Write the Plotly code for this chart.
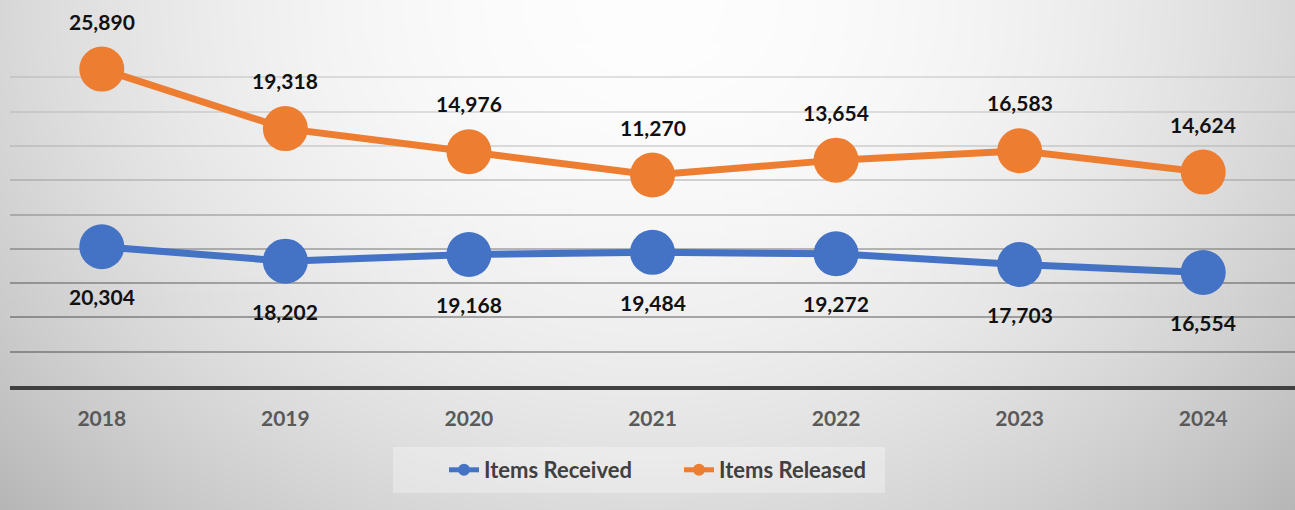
import numpy as np
import plotly.graph_objects as go

# ---- data -----------------------------------------------------------------
years = [2018, 2019, 2020, 2021, 2022, 2023, 2024]
items_received = [20304, 18202, 19168, 19484, 19272, 17703, 16554]
items_released = [25890, 19318, 14976, 11270, 13654, 16583, 14624]

# ---- page geometry / style ------------------------------------------------
W, H = 1295, 510
PL, PT, PB = 10, 43, 386          # plot area: left, top, bottom (px)
Y_MAX, Y_STEP = 50000, 5000
FONT = "Lato"
BLUE, ORANGE = "#4472C4", "#ED7D31"
GRID = "rgba(0,0,0,0.31)"


def backdrop(px, py):
    """Grey level of the page: bright at top centre, darker to the sides and bottom."""
    return 253 - 38 * ((px - 650) / 650) ** 2 - 30 * (np.clip(py, 0, None) / 480) ** 2


def sheen(py):
    """Opacity of the white sheen that softens the upper gridlines."""
    t = np.clip((320 - py) / 210, 0, 1)
    return 0.63 * t * t * (3 - 2 * t)


# page background, compensated so that page + sheen gives the backdrop
gx = np.unique(np.concatenate([np.linspace(0, W, 66), [PL - 0.1, PL + 0.1]]))
gy = np.unique(np.concatenate([np.linspace(0, H, 52), [PT - 0.1, PT + 0.1]]))
GX, GY = np.meshgrid(gx, gy)
target = backdrop(GX, GY)
inside = (GX >= PL) & (GY >= PT) & (GY <= PB)
alpha = np.where(inside, sheen(GY), 0.0)
page = (target - 255 * alpha) / (1 - alpha)

fig = go.Figure()

fig.add_trace(go.Heatmap(
    x=gx, y=gy, z=page, xaxis="x", yaxis="y",
    colorscale=[[0, "rgb(0,0,0)"], [1, "rgb(255,255,255)"]],
    zmin=0, zmax=255, zsmooth="best", showscale=False, hoverinfo="skip",
))

# white sheen inside the plot area (above gridlines, below the series)
sy_px = np.linspace(PT, PB, 40)
sy = (PB - sy_px) / (PB - PT) * Y_MAX
sz = np.repeat(sheen(sy_px)[:, None], 2, axis=1)
fig.add_trace(go.Heatmap(
    x=[years[0] - 0.5, years[-1] + 0.5], y=sy, z=sz, xaxis="x2", yaxis="y2",
    colorscale=[[0, "rgba(255,255,255,0)"], [1, "rgba(255,255,255,1)"]],
    zmin=0, zmax=1, zsmooth="best", showscale=False, hoverinfo="skip",
    showlegend=False,
))

# stacked line series
for name, vals, col in [("Items Received", items_received, BLUE),
                        ("Items Released", items_released, ORANGE)]:
    fig.add_trace(go.Scatter(
        x=years, y=vals, name=name, mode="lines+markers",
        stackgroup="totals", fill="none",
        line=dict(color=col, width=7),
        marker=dict(size=45, color=col, line=dict(width=0)),
        xaxis="x2", yaxis="y2",
    ))

# value labels (received below its marker, released above the stacked marker)
label_font = dict(family=FONT, size=21, color="#111111", weight="bold")
annotations = []
for yr, rec, rel in zip(years, items_received, items_released):
    annotations.append(dict(x=yr, y=rec, xref="x2", yref="y2", text=f"{rec:,}",
                            showarrow=False, yshift=-50, font=label_font))
    annotations.append(dict(x=yr, y=rec + rel, xref="x2", yref="y2", text=f"{rel:,}",
                            showarrow=False, yshift=48, font=label_font))

fig.update_layout(
    width=W, height=H,
    margin=dict(l=0, r=0, t=0, b=0),
    paper_bgcolor="#e0e0e0",
    plot_bgcolor="rgba(0,0,0,0)",
    showlegend=True,
    xaxis=dict(domain=[0, 1], range=[0, W], visible=False, fixedrange=True),
    yaxis=dict(domain=[0, 1], range=[H, 0], visible=False, fixedrange=True),
    xaxis2=dict(
        domain=[PL / W, 1], range=[years[0] - 0.5, years[-1] + 0.5],
        anchor="y2", tickmode="array", tickvals=years, tickformat="d",
        showgrid=False, zeroline=False,
        showline=True, linecolor="#404040", linewidth=4,
        ticks="outside", ticklen=11, tickcolor="rgba(0,0,0,0)",
        tickfont=dict(family=FONT, size=21, color="#595959", weight="bold"),
        fixedrange=True,
    ),
    yaxis2=dict(
        domain=[1 - PB / H, 1 - PT / H], range=[0, Y_MAX],
        anchor="x2", tick0=0, dtick=Y_STEP,
        showgrid=True, gridcolor=GRID, gridwidth=2,
        zeroline=False, showline=False, showticklabels=False, ticks="",
        fixedrange=True,
    ),
    legend=dict(
        orientation="h", x=444 / W, xanchor="left", y=1 - 470 / H, yanchor="middle",
        bgcolor="rgba(0,0,0,0)", itemsizing="constant", entrywidth=190,
        font=dict(family=FONT, size=22, color="#404040", weight="bold"),
    ),
    shapes=[dict(type="rect", xref="x", yref="y", x0=393, x1=885, y0=447, y1=493,
                 fillcolor="rgba(255,255,255,0.3)", line=dict(width=0), layer="above")],
    annotations=annotations,
)

fig.write_html("out.html")
